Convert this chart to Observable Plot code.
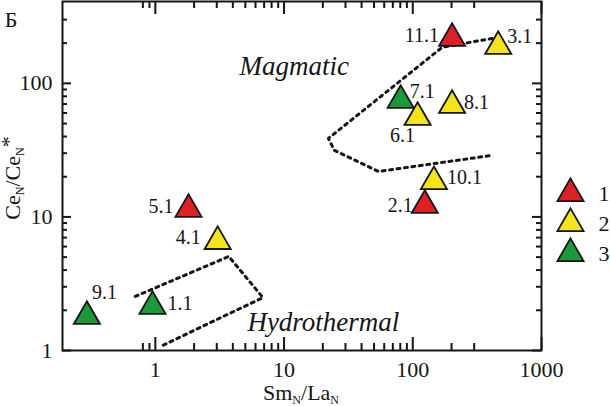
<!DOCTYPE html>
<html><head><meta charset="utf-8">
<script src="https://cdn.jsdelivr.net/npm/d3@7"></script>
<script src="https://cdn.jsdelivr.net/npm/@observablehq/plot@0.6"></script>
<style>
body{margin:0;background:#fff;}
#wrap{position:relative;width:610px;height:406px;overflow:hidden;}
#legend{position:absolute;left:550px;top:150px;}
svg text{font-family:"Liberation Serif","Times New Roman",serif;}
</style></head><body><div id="wrap"><div id="chart"></div><div id="legend"></div></div>
<script>
// ---- data ----
const labels = ["11.1","3.1","7.1","6.1","8.1","10.1","2.1","5.1","4.1","9.1","1.1"];
const smLa   = [202, 461, 80.5, 109, 202, 146, 124, 1.81, 3.05, 0.294, 0.95];
const ceCe   = [217, 189, 74.6, 55.6, 68.4, 18.4, 12.2, 11.4, 6.55, 1.80, 2.14];
const groups = ["1","2","3","2","2","2","1","1","2","3","3"];

const magmaticX = [414, 169, 22.1, 24.6, 54.2, 414];
const magmaticY = [217, 186, 38.7, 31.5, 21.9, 28.9];
const hydroX = [0.698, 3.72, 6.85, 1.09];
const hydroY = [2.54, 5.06, 2.49, 1.07];

const xMajor = [1, 10, 100, 1000];
const xMinor = [0.8, 0.9, 2, 3, 4, 5, 6, 7, 8, 9, 20, 30, 40, 50, 60, 70, 80, 90, 200, 300];
const yMajor = [1, 10, 100];
const yMinor = [2, 3, 4, 5, 6, 7, 8, 9, 20, 30, 40, 50, 60, 70, 80, 90, 200, 300];

const legendGroups = ["1", "2", "3"];
const groupColors = ["#dd2026", "#f5e41c", "#1a9a3a"];

// ---- layout ----
const W = 610, H = 406, mL = 62, mR = 69, mT = 1, mB = 56;
const frameW = W - mL - mR, frameH = H - mT - mB;
const FONT = "Liberation Serif";
const ink = "#161616";

const place = {
  "11.1": {anchor: "end", dx: -13, dy: -3},
  "3.1": {anchor: "start", dx: 9, dy: -10},
  "7.1": {anchor: "start", dx: 9, dy: -9},
  "6.1": {anchor: "middle", dx: -15, dy: 18},
  "8.1": {anchor: "start", dx: 12, dy: -3},
  "10.1": {anchor: "start", dx: 13, dy: -4},
  "2.1": {anchor: "end", dx: -12, dy: 0},
  "5.1": {anchor: "end", dx: -15, dy: -3},
  "4.1": {anchor: "end", dx: -17, dy: -4},
  "9.1": {anchor: "start", dx: 5, dy: -24},
  "1.1": {anchor: "start", dx: 15, dy: -3}
};

const pts = labels.map((l, i) => ({label: l, x: smLa[i], y: ceCe[i], g: groups[i]}));
const mag = magmaticX.map((x, i) => ({x, y: magmaticY[i]}));
const hyd = hydroX.map((x, i) => ({x, y: hydroY[i]}));
const colorScale = {domain: legendGroups, range: groupColors};

const labelMarks = pts.map(p =>
  Plot.text([p], {x: "x", y: "y", text: "label", textAnchor: place[p.label].anchor,
    dx: place[p.label].dx, dy: place[p.label].dy, fontSize: 20, fontFamily: FONT, fill: ink}));

const tk = {stroke: ink, strokeWidth: 2};
const chart = Plot.plot({
  width: W, height: H,
  marginLeft: mL, marginRight: mR, marginTop: mT, marginBottom: mB,
  style: {fontFamily: FONT, fontSize: "22px", color: ink, background: "white"},
  x: {type: "log", domain: [0.19, 1000]},
  y: {type: "log", domain: [1, 410]},
  color: colorScale,
  marks: [
    Plot.frame({stroke: ink, strokeWidth: 2}),
    // inward ticks on four sides
    Plot.tickX(xMajor, {x: d => d, insetTop: frameH - 13, ...tk}),
    Plot.tickX(xMinor, {x: d => d, insetTop: frameH - 7, ...tk}),
    Plot.tickX(xMajor, {x: d => d, insetBottom: frameH - 13, ...tk}),
    Plot.tickX(xMinor, {x: d => d, insetBottom: frameH - 7, ...tk}),
    Plot.tickY(yMajor, {y: d => d, insetRight: frameW - 9, ...tk}),
    Plot.tickY(yMinor, {y: d => d, insetRight: frameW - 5, ...tk}),
    Plot.tickY(yMajor, {y: d => d, insetLeft: frameW - 9, ...tk}),
    Plot.tickY(yMinor, {y: d => d, insetLeft: frameW - 5, ...tk}),
    Plot.axisX(xMajor, {anchor: "bottom", tickSize: 0, tickPadding: 11, tickFormat: d => String(d), label: null, fontSize: 22, fontFamily: FONT, fill: ink}),
    Plot.axisY(yMajor, {anchor: "left", tickSize: 0, tickPadding: 10, tickFormat: d => String(d), label: null, fontSize: 22, fontFamily: FONT, fill: ink}),
    Plot.line(mag, {x: "x", y: "y", stroke: ink, strokeWidth: 3, strokeDasharray: "3,4.5"}),
    Plot.line(hyd, {x: "x", y: "y", stroke: ink, strokeWidth: 3, strokeDasharray: "3,4.5"}),
    Plot.text(["Magmatic"], {x: [12], y: [134], text: d => d, fontSize: 27, fontStyle: "italic", fontFamily: FONT, fill: ink}),
    Plot.text(["Hydrothermal"], {x: [20.2], y: [1.62], text: d => d, fontSize: 27, fontStyle: "italic", fontFamily: FONT, fill: ink}),
    Plot.dot(pts, {x: "x", y: "y", fill: "g", symbol: "triangle", r: 9.7, stroke: ink, strokeWidth: 1.8}),
    ...labelMarks
  ]
});
document.getElementById("chart").appendChild(chart);

// axis titles with subscripts
const svg = d3.select(chart);
const xt = svg.append("text").attr("x", 301).attr("y", 400).attr("text-anchor", "middle")
  .attr("font-family", FONT).attr("font-size", 22).attr("fill", ink);
xt.append("tspan").text("Sm");
xt.append("tspan").attr("font-size", 12).attr("dy", 4).text("N");
xt.append("tspan").attr("dy", -4).text("/La");
xt.append("tspan").attr("font-size", 12).attr("dy", 4).text("N");

const yt = svg.append("text").attr("transform", "translate(20,178) rotate(-90)").attr("text-anchor", "middle")
  .attr("font-family", FONT).attr("font-size", 22).attr("fill", ink);
yt.append("tspan").text("Ce");
yt.append("tspan").attr("font-size", 12).attr("dy", 4).text("N");
yt.append("tspan").attr("dy", -4).text("/Ce");
yt.append("tspan").attr("font-size", 12).attr("dy", 4).text("N");
yt.append("tspan").attr("dy", -8).text("*");

svg.append("text").attr("x", 11).attr("y", 27).attr("font-family", FONT).attr("font-size", 22).attr("fill", ink).text("Б");

// legend
const legend = Plot.plot({
  width: 60, height: 140, margin: 0,
  style: {fontFamily: FONT, fontSize: "22px", color: ink, background: "transparent"},
  x: {axis: null, domain: [0, 1]},
  y: {type: "point", domain: legendGroups, range: [28, 118], axis: null},
  color: colorScale,
  marks: [
    Plot.dot(legendGroups, {y: d => d, frameAnchor: "left", dx: 20, fill: d => d, symbol: "triangle", r: 9.7, stroke: ink, strokeWidth: 1.8}),
    Plot.text(legendGroups, {y: d => d, frameAnchor: "left", dx: 48, text: d => d, textAnchor: "start", fontSize: 22, fontFamily: FONT, fill: ink})
  ]
});
document.getElementById("legend").appendChild(legend);
</script></body></html>
